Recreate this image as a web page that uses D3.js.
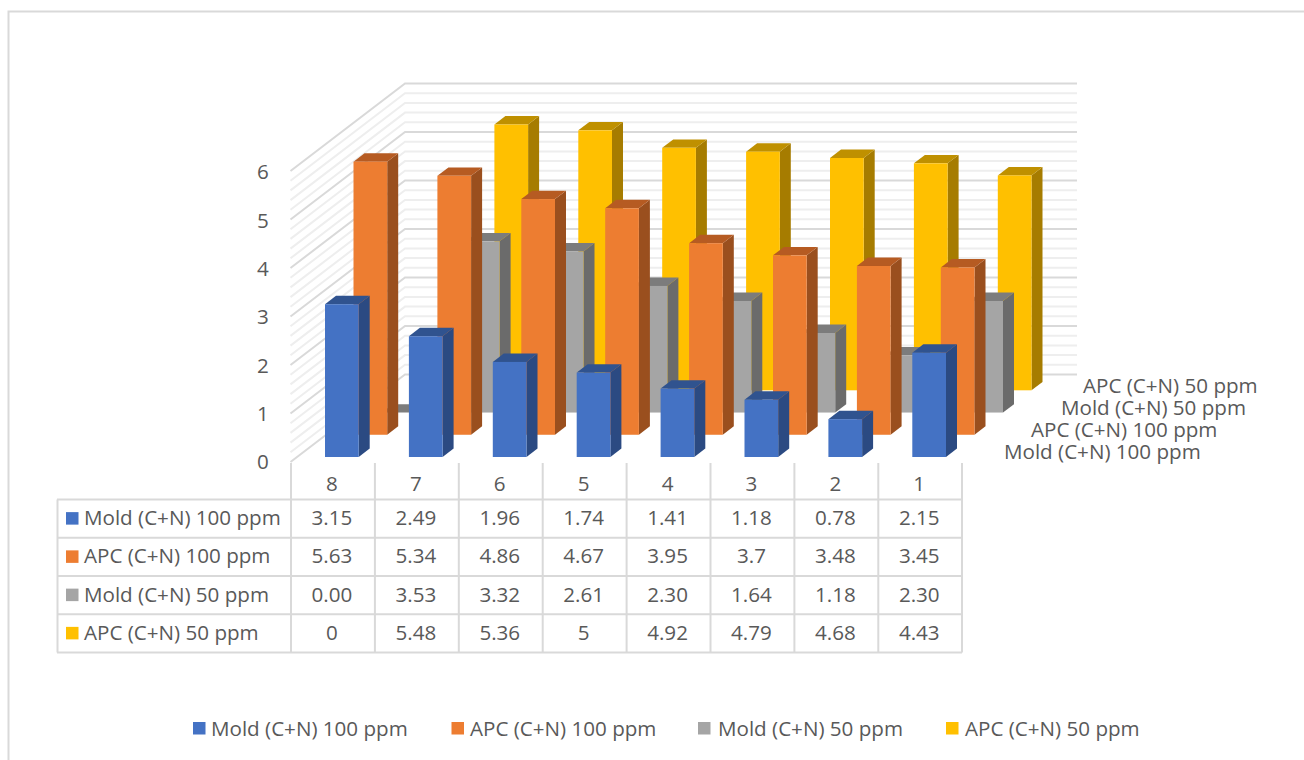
<!DOCTYPE html>
<html><head><meta charset="utf-8">
<script src="https://cdn.jsdelivr.net/npm/d3@7"></script>
<style>html,body{margin:0;padding:0;background:#fff;overflow:hidden}text{font-family:"Open Sans",sans-serif;fill:#595959}</style>
</head><body><svg id="c" width="1304" height="760"></svg>
<script>
const categories = ["8","7","6","5","4","3","2","1"];
const seriesNames = ["Mold (C+N) 100 ppm","APC (C+N) 100 ppm","Mold (C+N) 50 ppm","APC (C+N) 50 ppm"];
const mold100 = [3.15,2.49,1.96,1.74,1.41,1.18,0.78,2.15];
const apc100 = [5.63,5.34,4.86,4.67,3.95,3.7,3.48,3.45];
const mold50 = [0,3.53,3.32,2.61,2.30,1.64,1.18,2.30];
const apc50 = [0,5.48,5.36,5,4.92,4.79,4.68,4.43];
const tableMold100 = ["3.15","2.49","1.96","1.74","1.41","1.18","0.78","2.15"];
const tableApc100 = ["5.63","5.34","4.86","4.67","3.95","3.7","3.48","3.45"];
const tableMold50 = ["0.00","3.53","3.32","2.61","2.30","1.64","1.18","2.30"];
const tableApc50 = ["0","5.48","5.36","5","4.92","4.79","4.68","4.43"];
const yTicks = [0,1,2,3,4,5,6];

const seriesValues = [mold100,apc100,mold50,apc50];
const tableRows = [tableMold100,tableApc100,tableMold50,tableApc50];
const front = ["#4472C4","#ED7D31","#A5A5A5","#FFC000"];
const side  = ["#2B4A82","#9A4F1E","#6B6B6B","#A67C00"];
const top_  = ["#30538F","#B65B22","#7C7C7C","#BF9000"];
const FS = 20.6;
const svg = d3.select("#c");
const GRID="#D9D9D9", MINOR="#EEEEEE";

// border
svg.append("path").attr("d","M8.5,760V11.5H1304").attr("fill","none").attr("stroke","#D9D9D9").attr("stroke-width",2);

// scales
const x = d3.scaleBand().domain(categories).range([291,962.2]);
const barInset = 34, barW = 33.7, depthX = 11, depthY = 8.4;
const sIdx = d3.scaleLinear().domain([0,3]);
const sx = sIdx.copy().range([0,85.5]);
const sy = sIdx.copy().range([457,390.3]);
const h = d3.scaleLinear().domain([0,6]).range([0,291]);
const wall = {x0:290.5,x1:405,x2:1077,front0:462,back0:374.5};

// gridlines
const gridVals = d3.range(0,31).map(i=>i/5);
const gG = svg.append("g").attr("fill","none").attr("stroke-width",2);
gridVals.slice().sort((a,b)=>(Number.isInteger(a)?1:0)-(Number.isInteger(b)?1:0)).forEach(v=>{
  const d = d3.path();
  d.moveTo(wall.x0,wall.front0-h(v));
  d.lineTo(wall.x1,wall.back0-h(v));
  d.lineTo(wall.x2,wall.back0-h(v));
  gG.append("path").attr("d",d.toString()).attr("stroke",Number.isInteger(v)?GRID:MINOR);
});

// bars: back series first
d3.range(3,-1,-1).forEach(s=>{
  const g = svg.append("g");
  categories.forEach((c,i)=>{
    const v = seriesValues[s][i];
    const xl = x(c)+barInset+sx(s), xr = xl+barW;
    const yb = sy(s), yt = yb-h(v);
    g.append("polygon").attr("points",[[xr,yt],[xr+depthX,yt-depthY],[xr+depthX,yb-depthY],[xr,yb]].join(" ")).attr("fill",side[s]);
    g.append("polygon").attr("points",[[xl,yt],[xl+depthX,yt-depthY],[xr+depthX,yt-depthY],[xr,yt]].join(" ")).attr("fill",top_[s]);
    g.append("rect").attr("x",xl).attr("y",yt).attr("width",barW).attr("height",yb-yt).attr("fill",front[s]);
  });
});

// y tick labels
const tickY = d3.scaleLinear().domain([0,6]).range([462,172]);
svg.append("g").selectAll("text").data(yTicks).join("text")
  .attr("x",263).attr("y",d=>tickY(d)).attr("dy","0.36em").attr("text-anchor","middle").attr("font-size",FS).text(d=>d);

// depth series labels
const depthLabelX = [1004,1031,1061,1083];
const depthLabelY = [452,430,408,386];
svg.append("g").selectAll("text").data(seriesNames).join("text")
  .attr("x",(d,i)=>depthLabelX[i]).attr("y",(d,i)=>depthLabelY[i]).attr("dy","0.36em").attr("font-size",FS).text(d=>d);

// data table
const rowY = d3.scaleLinear().domain([0,4]).range([499.5,652.5]);
const t = svg.append("g").attr("stroke",GRID).attr("stroke-width",2).attr("fill","none");
d3.range(0,5).forEach(r=>t.append("line").attr("x1",57).attr("x2",962).attr("y1",rowY(r)).attr("y2",rowY(r)));
t.append("line").attr("x1",57.5).attr("x2",57.5).attr("y1",rowY(0)).attr("y2",rowY(4));
categories.forEach(c=>t.append("line").attr("x1",x(c)).attr("x2",x(c)).attr("y1",463).attr("y2",rowY(4)));
t.append("line").attr("x1",962).attr("x2",962).attr("y1",463).attr("y2",rowY(4));
categories.forEach(c=>{
  svg.append("text").attr("x",x(c)+x.bandwidth()/2-1).attr("y",484).attr("dy","0.36em").attr("text-anchor","middle").attr("font-size",FS).text(c);
});
seriesNames.forEach((n,r)=>{
  const yc = (rowY(r)+rowY(r+1))/2-1;
  svg.append("rect").attr("x",66).attr("y",yc-5.5).attr("width",12.5).attr("height",12.5).attr("fill",front[r]);
  svg.append("text").attr("x",84).attr("y",yc).attr("dy","0.36em").attr("font-size",FS).text(n);
  categories.forEach((c,i)=>{
    svg.append("text").attr("x",x(c)+x.bandwidth()/2-1).attr("y",yc).attr("dy","0.36em").attr("text-anchor","middle").attr("font-size",FS).text(tableRows[r][i]);
  });
});

// legend
const legendX = [193,451.5,698,946];
const legendTextX = [211,470,718,965];
seriesNames.forEach((n,i)=>{
  svg.append("rect").attr("x",legendX[i]).attr("y",722).attr("width",12.5).attr("height",12.5).attr("fill",front[i]);
  svg.append("text").attr("x",legendTextX[i]).attr("y",728.5).attr("dy","0.36em").attr("font-size",FS).text(n);
});
</script></body></html>
